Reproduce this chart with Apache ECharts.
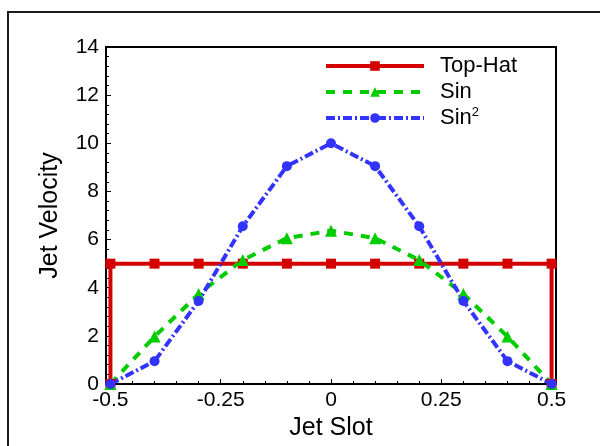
<!DOCTYPE html>
<html style="height: 100%">
<head>
    <meta charset="utf-8">
</head>
<body style="height: 100%; margin: 0; background: #fff">
<div id="container" style="width: 600px; height: 446px"></div>
<script src="https://cdn.jsdelivr.net/npm/echarts@6/dist/echarts.min.js"></script>
<script type="text/javascript">
    // data
    var slotX = [-0.5, -0.4, -0.3, -0.2, -0.1, 0, 0.1, 0.2, 0.3, 0.4, 0.5];
    var topHatX = [-0.5, -0.5, -0.4, -0.3, -0.2, -0.1, 0, 0.1, 0.2, 0.3, 0.4, 0.5, 0.5];
    var topHatY = [0, 5, 5, 5, 5, 5, 5, 5, 5, 5, 5, 5, 0];
    var sinY = [0, 1.97, 3.74, 5.15, 6.06, 6.37, 6.06, 5.15, 3.74, 1.97, 0];
    var sin2Y = [0, 0.95, 3.45, 6.55, 9.05, 10, 9.05, 6.55, 3.45, 0.95, 0];
    var xLabels = [-0.5, -0.25, 0, 0.25, 0.5];
    var xMinorTicks = [-0.45, -0.4, -0.35, -0.3, -0.2, -0.15, -0.1, -0.05,
        0.05, 0.1, 0.15, 0.2, 0.3, 0.35, 0.4, 0.45];

    function pairs(xs, ys) {
        var out = [];
        for (var i = 0; i < xs.length; i++) out.push([xs[i], ys[i]]);
        return out;
    }

    var dom = document.getElementById("container");
    var myChart = echarts.init(dom);
    var font = 'Liberation Sans, Arial, sans-serif';

    var option = {
        animation: false,
        backgroundColor: '#fff',
        graphic: [{
            type: 'rect',
            shape: {x: 8, y: 12, width: 700, height: 600},
            style: {fill: 'none', stroke: '#1a1a1a', lineWidth: 2},
            silent: true
        }],
        grid: {
            left: 106, right: 44, top: 47, bottom: 60,
            show: true, borderColor: '#000', borderWidth: 2
        },
        legend: {
            orient: 'vertical',
            left: 319, top: 49,
            itemWidth: 98, itemHeight: 12, itemGap: 2,
            data: ['Top-Hat', 'Sin', 'Sin²'],
            lineStyle: {width: 4},
            formatter: function (name) {
                return name === 'Sin²' ? 'Sin{sup|2}' : name;
            },
            textStyle: {
                fontFamily: font, fontSize: 22, color: '#000',
                lineHeight: 24, padding: [0, 0, 0, 11],
                rich: {
                    sup: {fontFamily: font, fontSize: 13, color: '#000', verticalAlign: 'top', lineHeight: 14}
                }
            }
        },
        xAxis: [{
            type: 'value',
            min: -0.51, max: 0.51,
            name: 'Jet Slot', nameLocation: 'middle', nameGap: 32,
            nameTextStyle: {fontFamily: font, fontSize: 25, color: '#000'},
            axisLine: {show: true, onZero: false, lineStyle: {color: '#000', width: 2}},
            axisTick: {show: true, inside: true, length: 5, customValues: xLabels, lineStyle: {color: '#000'}},
            axisLabel: {customValues: xLabels, margin: 6, fontFamily: font, fontSize: 21, color: '#000'},
            splitLine: {show: false}
        }, {
            type: 'value',
            min: -0.51, max: 0.51,
            position: 'bottom',
            axisLine: {show: false, onZero: false},
            axisTick: {show: true, inside: true, length: 3, customValues: xMinorTicks, lineStyle: {color: '#000'}},
            axisLabel: {show: false},
            splitLine: {show: false}
        }],
        yAxis: {
            type: 'value',
            min: 0, max: 14, interval: 2,
            name: 'Jet Velocity', nameLocation: 'middle', nameGap: 43,
            nameTextStyle: {fontFamily: font, fontSize: 25, color: '#000'},
            axisLine: {show: true, onZero: false, lineStyle: {color: '#000', width: 2}},
            axisTick: {show: true, inside: true, length: 5, lineStyle: {color: '#000'}},
            minorTick: {show: true, splitNumber: 5, length: 3, lineStyle: {color: '#000'}},
            axisLabel: {margin: 7, fontFamily: font, fontSize: 21, color: '#000'},
            splitLine: {show: false}
        },
        series: [{
            name: 'Top-Hat', type: 'line',
            data: pairs(topHatX, topHatY),
            symbol: 'rect', symbolSize: 10,
            itemStyle: {color: '#d40000'},
            lineStyle: {color: '#d40000', width: 4}
        }, {
            name: 'Sin', type: 'line',
            data: pairs(slotX, sinY),
            symbol: 'triangle', symbolSize: 12,
            itemStyle: {color: '#00cc00'},
            lineStyle: {color: '#00cc00', width: 4, type: [9, 8]}
        }, {
            name: 'Sin²', type: 'line',
            data: pairs(slotX, sin2Y),
            symbol: 'circle', symbolSize: 10,
            itemStyle: {color: '#3333ff'},
            lineStyle: {color: '#3333ff', width: 4, type: [9, 3, 2, 3]}
        }]
    };

    myChart.setOption(option);
</script>
</body>
</html>
